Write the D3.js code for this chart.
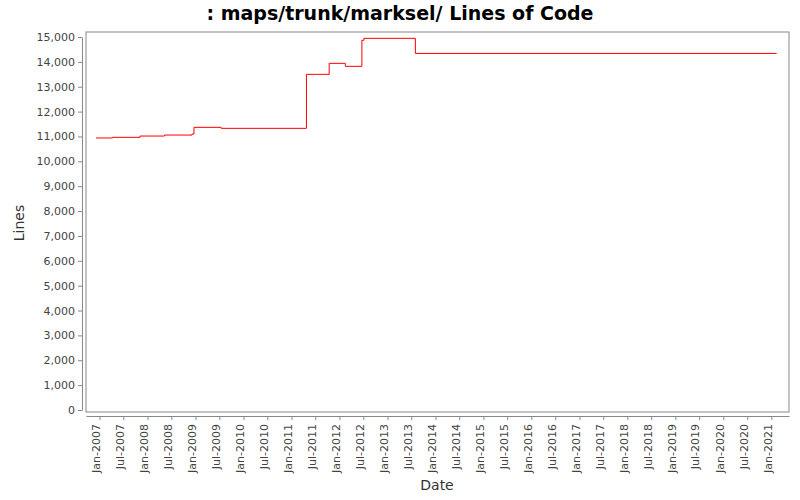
<!DOCTYPE html>
<html><head><meta charset="utf-8">
<script src="https://cdn.jsdelivr.net/npm/d3@7"></script>
<style>body{margin:0;background:#fff}</style>
</head><body>
<svg id="chart" width="800" height="500"></svg>
<script>
// commit dates and line counts
var dates = ['2006-12-05','2007-04-10','2007-11-05','2008-05-10','2008-12-05','2008-12-20','2009-07-15','2011-04-25','2011-10-15','2012-02-15','2012-06-20','2012-07-05','2013-08-01','2021-02-10']
var lines = [10940,10965,11017,11057,11098,11367,11327,13498,13940,13820,14866,14946,14340,14340]
var yTicks = d3.range(0, 15001, 1000)

var svg = d3.select('#chart')
var parse = d3.timeParse('%Y-%m-%d')
var data = dates.map(function (d, i) { return {date: parse(d), value: lines[i]} })

var x = d3.scaleTime()
    .domain([parse('2006-09-20'), parse('2021-05-15')])
    .range([86, 789])
var y = d3.scaleLinear().domain([0, 15000]).range([410, 37])

svg.append('text').attr('x', 400).attr('y', 20).attr('text-anchor', 'middle')
    .style('font', 'bold 19px "DejaVu Sans"').text(': maps/trunk/marksel/ Lines of Code')

svg.append('rect').attr('x', 86).attr('y', 32).attr('width', 703).attr('height', 380)
    .attr('fill', '#fff').attr('stroke', '#888')

var yAxis = svg.append('g').attr('transform', 'translate(82,0)')
    .call(d3.axisLeft(y).tickValues(yTicks).tickSize(4).tickSizeOuter(0).tickFormat(d3.format(',')))
var xTicks = d3.timeMonth.range(parse('2007-01-01'), parse('2021-02-01'), 6)
var xAxis = svg.append('g').attr('transform', 'translate(0,416)')
    .call(d3.axisBottom(x).tickValues(xTicks).tickSize(4).tickSizeOuter(0).tickFormat(d3.timeFormat('%b-%Y')))
xAxis.selectAll('text').attr('transform', 'rotate(-90)').attr('text-anchor', 'end')
    .attr('x', -8).attr('y', -4).attr('dy', '0.35em')
;[yAxis, xAxis].forEach(function (a) {
  a.selectAll('path,line').attr('stroke', '#888')
  a.selectAll('text').attr('fill', '#444').style('font', '11px "DejaVu Sans"')
})

svg.append('path').datum(data)
    .attr('d', d3.line().curve(d3.curveStepAfter).x(function (d) { return x(d.date) }).y(function (d) { return y(d.value) }))
    .attr('fill', 'none').attr('stroke', 'red').attr('stroke-width', 1)

svg.append('text').attr('transform', 'translate(24,223) rotate(-90)').attr('text-anchor', 'middle')
    .style('font', '14px "DejaVu Sans"').attr('fill', '#333').text('Lines')
svg.append('text').attr('x', 437).attr('y', 490).attr('text-anchor', 'middle')
    .style('font', '14px "DejaVu Sans"').attr('fill', '#333').text('Date')
</script>
</body></html>
